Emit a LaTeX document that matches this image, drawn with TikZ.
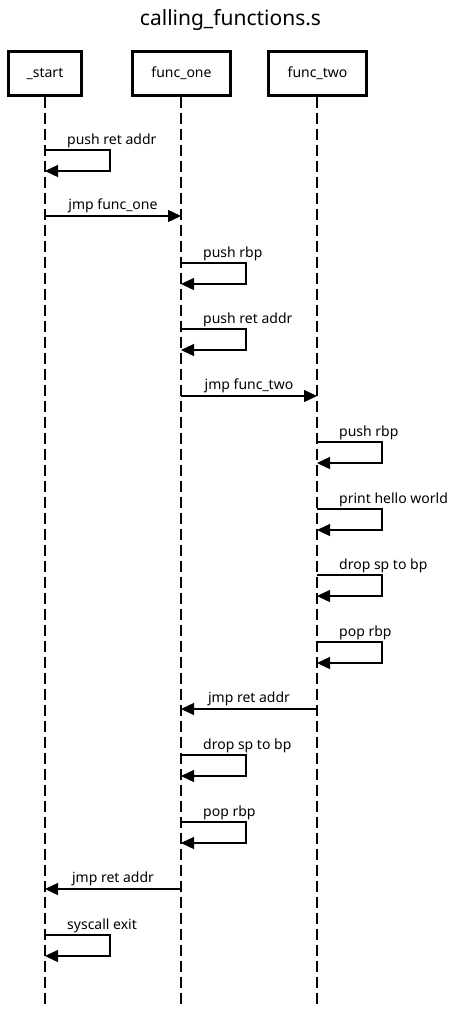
\documentclass[tikz,border=0pt]{standalone}
\usepackage{fontspec}
\setmainfont{Noto Sans}
\usetikzlibrary{arrows.meta}
\begin{document}
\begin{tikzpicture}[x=1pt,y=-1pt,
  actor/.style={draw,line width=2.6pt,minimum height=44pt,inner sep=0pt,font=\fontsize{14}{16}\selectfont},
  life/.style={line width=1.4pt,dash pattern=on 11pt off 5pt},
  msg/.style={line width=1.3pt,-{Triangle[length=13pt,width=12pt]}},
  lbl/.style={font=\fontsize{14}{16}\selectfont,inner sep=0pt},
]
\useasboundingbox (0,0) rectangle (461,1013);
\node[font=\fontsize{21}{24}\selectfont,inner sep=0pt,anchor=base] (title) at (230.5,25) {calling\_functions.s};
\node[actor,minimum width=73pt] (start) at (45,73.5) {\_start};
\node[actor,minimum width=98pt] (one) at (181.5,73.5) {func\_one};
\node[actor,minimum width=98pt] (two) at (317.5,73.5) {func\_two};
\coordinate (startend) at (45,1008);
\coordinate (oneend) at (181,1008);
\coordinate (twoend) at (317,1008);
\draw[life] (45,97) coordinate (startl) -- (startend);
\draw[life] (181,97) coordinate (onel) -- (oneend);
\draw[life] (317,97) coordinate (twol) -- (twoend);
% self messages
\foreach \n/\x/\t/\txt in {
  a/45/150/push ret addr,
  b/181/263/push rbp,
  c/181/329/push ret addr,
  d/317/442/push rbp,
  e/317/509/print hello world,
  f/317/575/drop sp to bp,
  g/317/642/pop rbp,
  h/181/755/drop sp to bp,
  i/181/822/pop rbp,
  j/45/935/syscall exit}{
  \coordinate (\n0) at (\x,\t);
  \coordinate (\n1) at (\x,\t+21);
  \draw[msg] (\n0) -- ++(65,0) |- (\n1);
  \node[lbl,anchor=base west] (\n l) at (\x+22,\t-6) {\txt};
}
% messages between lifelines
\coordinate (m1a) at (45,216);  \coordinate (m1b) at (181,216);
\draw[msg] (m1a) -- (m1b);
\node[lbl,anchor=base] (m1l) at (113,209) {jmp func\_one};
\coordinate (m2a) at (181,396);  \coordinate (m2b) at (317,396);
\draw[msg] (m2a) -- (m2b);
\node[lbl,anchor=base] (m2l) at (249,389) {jmp func\_two};
\coordinate (m3a) at (317,709);  \coordinate (m3b) at (181,709);
\draw[msg] (m3a) -- (m3b);
\node[lbl,anchor=base] (m3l) at (249,702) {jmp ret addr};
\coordinate (m4a) at (181,889);  \coordinate (m4b) at (45,889);
\draw[msg] (m4a) -- (m4b);
\node[lbl,anchor=base] (m4l) at (113,882) {jmp ret addr};
\end{tikzpicture}
\end{document}
